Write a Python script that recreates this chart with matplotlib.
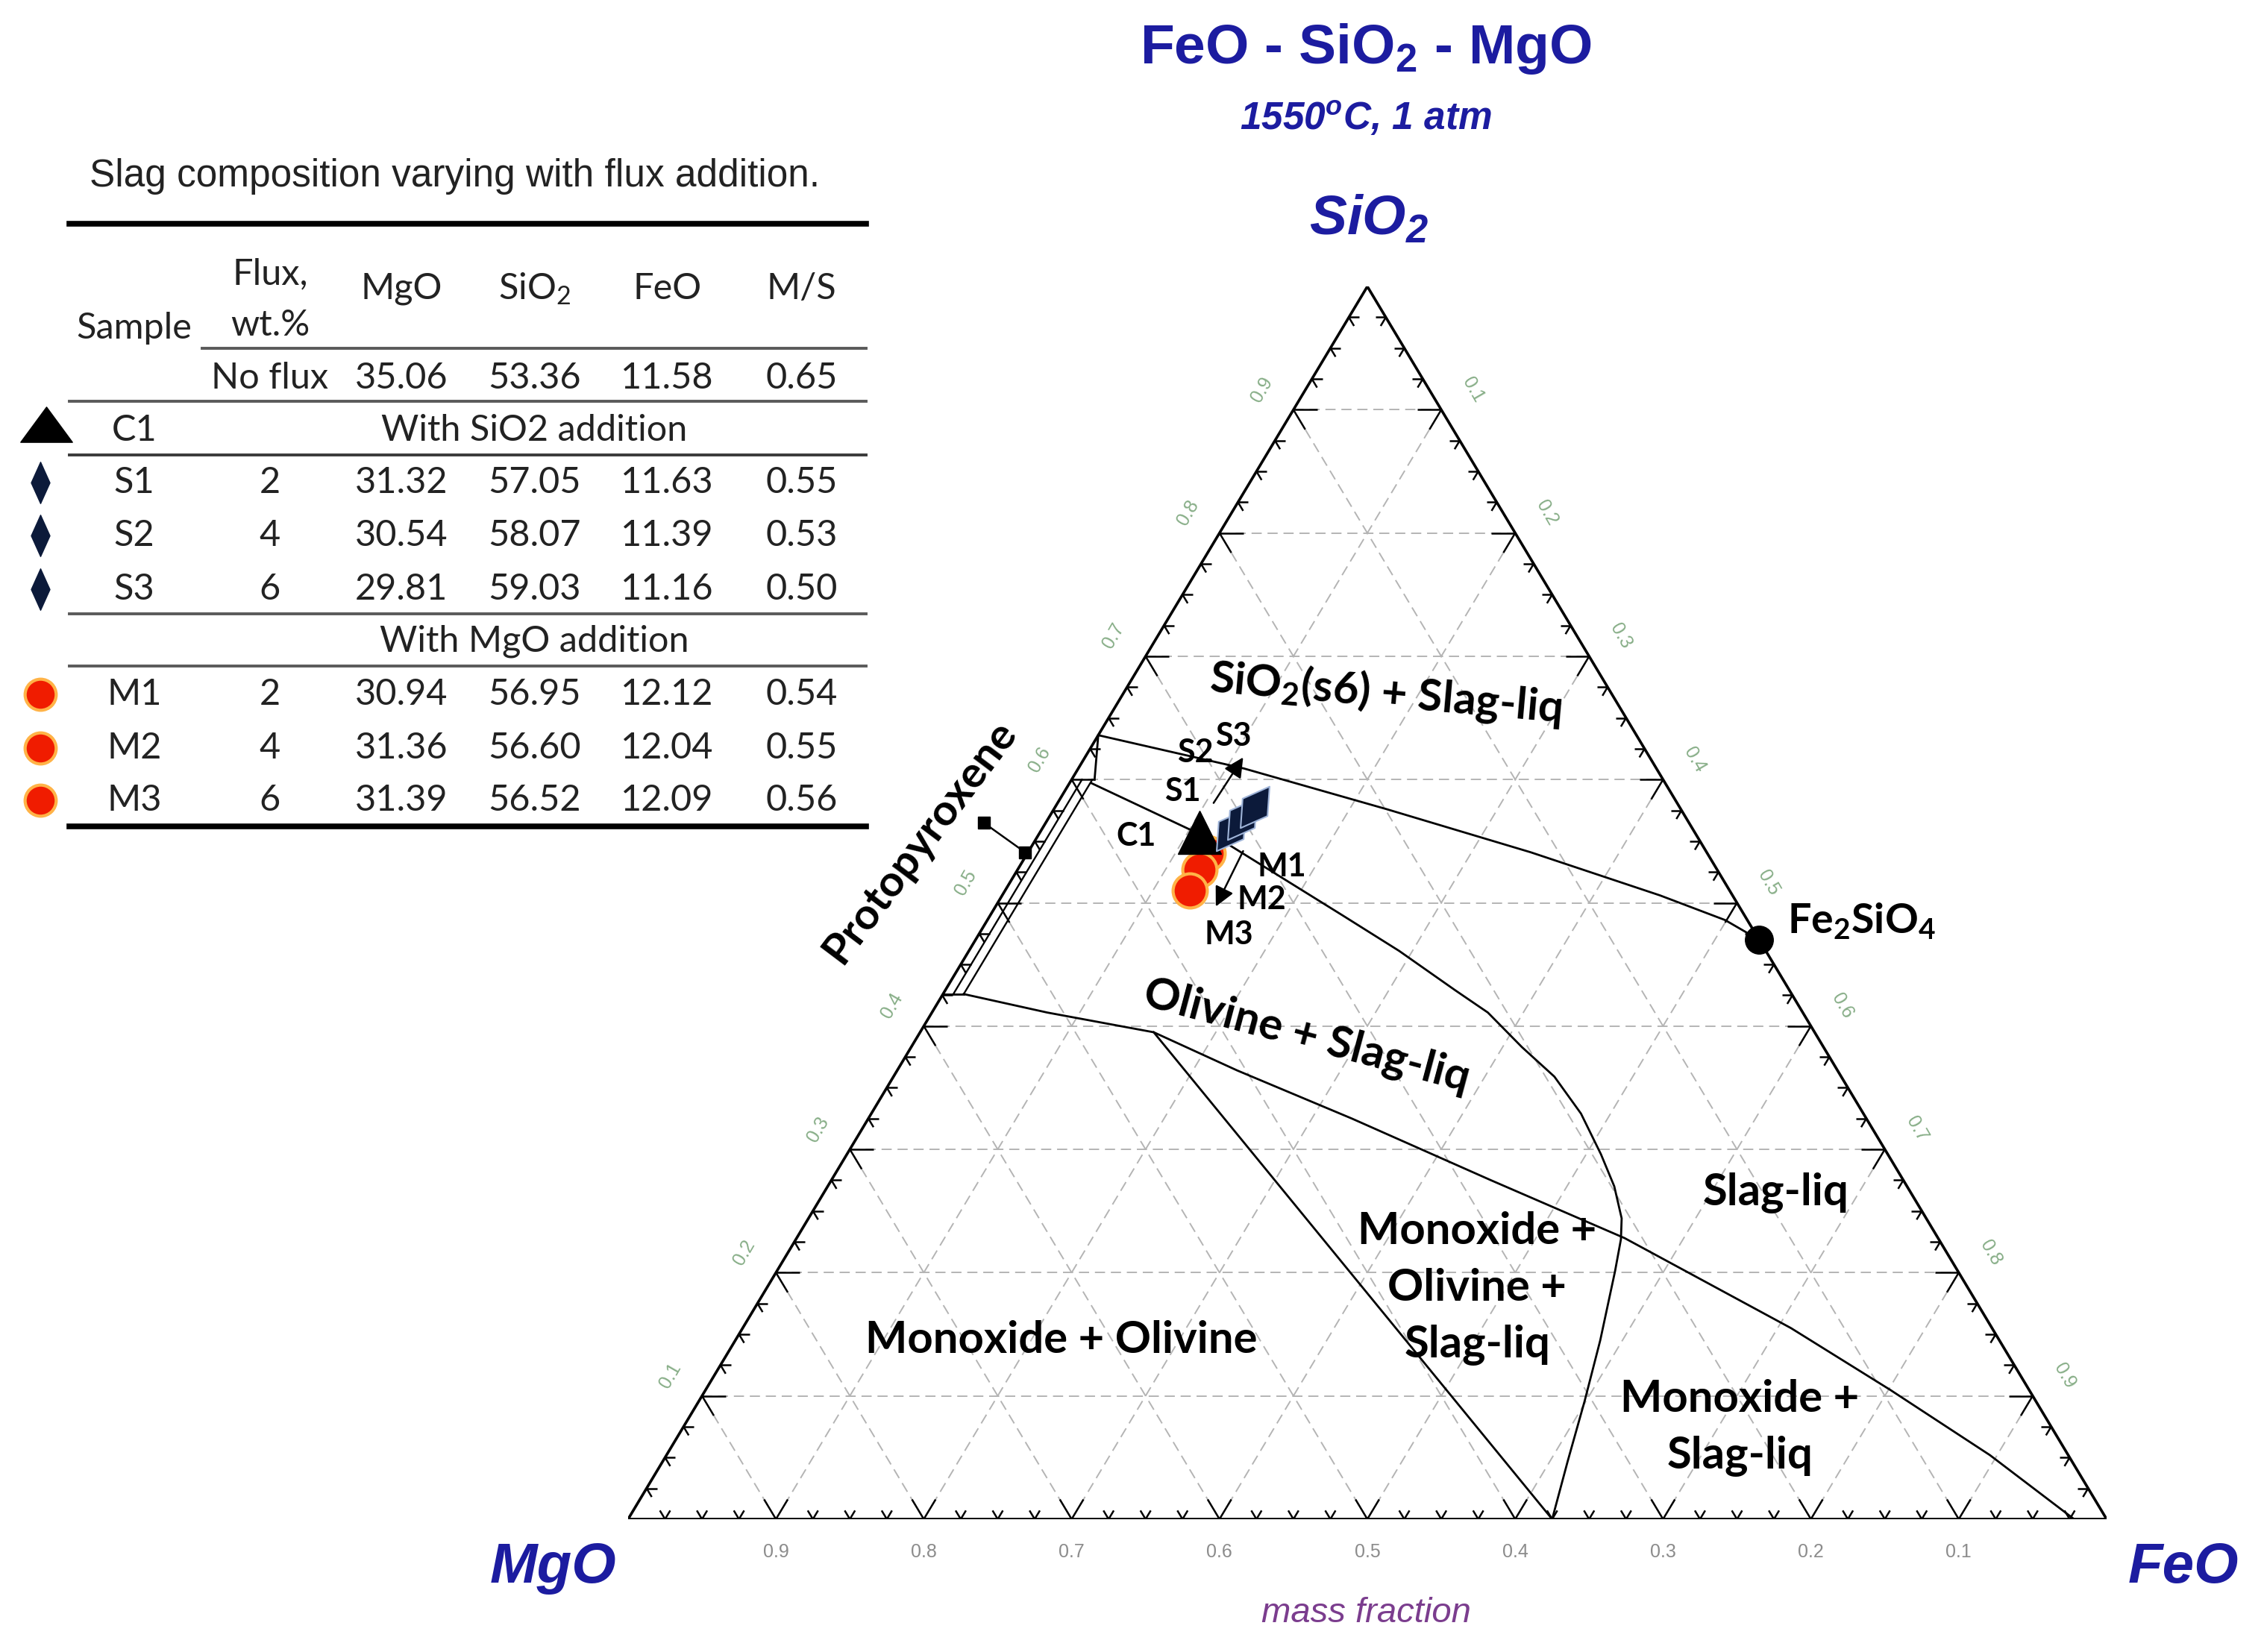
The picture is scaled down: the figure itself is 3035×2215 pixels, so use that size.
import matplotlib
matplotlib.use("Agg")

import numpy as np
import matplotlib.pyplot as plt
from matplotlib import font_manager
from matplotlib.collections import LineCollection
from matplotlib.path import Path
from matplotlib.transforms import Affine2D

# ---- table values, wt.% ----
noflux_values = [35.06, 53.36, 11.58, 0.65]
s_names = ["S1", "S2", "S3"]
s_flux = [2, 4, 6]
s_mgo = [31.32, 30.54, 29.81]
s_sio2_tab = [57.05, 58.07, 59.03]
s_feo_tab = [11.63, 11.39, 11.16]
s_ms = [0.55, 0.53, 0.50]
m_names = ["M1", "M2", "M3"]
m_flux = [2, 4, 6]
m_mgo = [30.94, 31.36, 31.39]
m_sio2_tab = [56.95, 56.60, 56.52]
m_feo_tab = [12.12, 12.04, 12.09]
m_ms = [0.54, 0.55, 0.56]

# ---- marker positions as drawn on the diagram (mass fraction) ----
c1_sio2 = [0.557]
c1_feo = [0.108]
s_sio2 = [0.559, 0.568, 0.578]
s_feo = [0.128, 0.131, 0.135]
m_sio2 = [0.540, 0.527, 0.510]
m_feo = [0.122, 0.123, 0.125]
fe2sio4_sio2 = [0.47]
fe2sio4_feo = [0.53]

# ---- phase boundaries (mass fraction SiO2, FeO) ----
sat_sio2 = [0.636, 0.609, 0.576, 0.541, 0.506, 0.486, 0.470]
sat_feo = [0.000, 0.112, 0.225, 0.340, 0.445, 0.499, 0.530]

olv_sio2 = [0.597, 0.560, 0.547, 0.490, 0.461, 0.429, 0.411, 0.383, 0.359, 0.329,
            0.296, 0.270, 0.244, 0.227, 0.201, 0.145, 0.096, 0.047, 0.000]
olv_feo = [0.015, 0.099, 0.133, 0.238, 0.291, 0.345, 0.376, 0.413, 0.447, 0.480,
           0.510, 0.532, 0.550, 0.558, 0.567, 0.585, 0.599, 0.612, 0.625]

mono_sio2 = [0.426, 0.411, 0.395, 0.364, 0.325, 0.275, 0.228, 0.155, 0.105, 0.052, 0.000]
mono_feo = [0.014, 0.078, 0.158, 0.230, 0.327, 0.446, 0.560, 0.709, 0.801, 0.895, 0.978]

tie_sio2 = [0.395, 0.000]
tie_feo = [0.158, 0.625]

band_sio2 = [0.426, 0.600]
band_feo = [0.007, 0.014]
band_top_sio2 = [0.636, 0.600]
band_top_feo = [0.000, 0.0155]
band_bot_sio2 = [0.426, 0.426]
band_bot_feo = [0.000, 0.014]

proto_ptr_sio2 = [0.565, 0.541]
proto_ptr_feo = [-0.042, -0.002]

s_arrow_sio2 = [0.581, 0.618]
s_arrow_feo = [0.1055, 0.107]
m_arrow_sio2 = [0.542, 0.497]
m_arrow_feo = [0.145, 0.149]

tick_values = [0.1, 0.2, 0.3, 0.4, 0.5, 0.6, 0.7, 0.8, 0.9]

avail = {f.name for f in font_manager.fontManager.ttflist}
LABEL = "Lato" if "Lato" in avail else "DejaVu Sans"
ARIAL = "Liberation Sans" if "Liberation Sans" in avail else "DejaVu Sans"
NARROW = "Liberation Sans Narrow" if "Liberation Sans Narrow" in avail else ARIAL
plt.rcParams["font.family"] = [LABEL, "DejaVu Sans"]

BLUE = "#1c1ca0"
GRID = "#b4b4b4"
NAVY = "#0c1a3a"
RED = "#f01c00"


def tern(sio2, feo):
    sio2 = np.asarray(sio2, dtype = float)
    feo = np.asarray(feo, dtype = float)
    return feo + sio2/2.0, sio2


def sub(s):
    return "$\\mathregular{_" + s + "}$"


def custom_marker(verts, angle = 0):
    path = Path(verts + [verts[0]], closed = True)
    return path.transformed(Affine2D().rotate_deg(angle))


diamond_tab = custom_marker([(0, 1), (0.45, 0), (0, -1), (-0.45, 0)])
diamond_plot = custom_marker([(0, 1), (0.6, 0), (0, -1), (-0.6, 0)], angle = -35)
tri_tab = custom_marker([(-1, -0.68), (1, -0.68), (0, 0.68)])

fig = plt.figure(figsize = (30.35, 22.15), dpi = 100)

# ternary axes: x = FeO + SiO2/2, y = SiO2
ax = fig.add_axes([435/1568, 1 - 1052/1144, 1024/1568, 853.6/1144])
ax.set_xlim(0, 1)
ax.set_ylim(0, 1)
ax.axis("off")

for v in tick_values:
    for s_pts, f_pts in (([v, v], [0, 1 - v]), ([0, 1 - v], [v, v]), ([0, 1 - v], [1 - v, 0])):
        x, y = tern(s_pts, f_pts)
        ax.plot(x, y, color = GRID, lw = 1.4, ls = (0, (7, 4)), zorder = 1)

x, y = tern([0, 0, 1, 0], [0, 1, 0, 0])
ax.plot(x, y, color = "k", lw = 2.6, solid_joinstyle = "miter", zorder = 3)

segs = []
for i in range(1, 40):
    v = i*0.025
    L = 0.016 if i % 4 == 0 else 0.007
    # base (SiO2 = 0, FeO = v)
    for s_end, f_end in ((L, v), (L, v - L)):
        segs.append(np.column_stack(tern([0, s_end], [v, f_end])))
    # left edge (FeO = 0, SiO2 = v)
    for s_end, f_end in ((v, L), (v - L, L)):
        segs.append(np.column_stack(tern([v, s_end], [0, f_end])))
    # right edge (MgO = 0, SiO2 = v)
    for s_end, f_end in ((v, 1 - v - L), (v - L, 1 - v)):
        segs.append(np.column_stack(tern([v, s_end], [1 - v, f_end])))
ax.add_collection(LineCollection(segs, colors = "k", linewidths = 1.8, zorder = 3))

for v in tick_values:
    x, y = tern(v, 0)
    ax.text(x - 0.0215, y + 0.0164, f"{v:.1f}", rotation = 60, fontsize = 18,
            family = ARIAL, color = "#86ad86", ha = "center", va = "center")
    x, y = tern(1 - v, v)
    ax.text(x + 0.0215, y + 0.0164, f"{v:.1f}", rotation = -60, fontsize = 18,
            family = ARIAL, color = "#86ad86", ha = "center", va = "center")
    x, y = tern(0, 1 - v)
    ax.text(x, y - 0.027, f"{v:.1f}", fontsize = 18, family = ARIAL,
            color = "#8c8c8c", ha = "center", va = "center")

for s_pts, f_pts in ((sat_sio2, sat_feo), (olv_sio2, olv_feo), (mono_sio2, mono_feo),
                     (tie_sio2, tie_feo), (band_top_sio2, band_top_feo),
                     (band_bot_sio2, band_bot_feo)):
    x, y = tern(s_pts, f_pts)
    ax.plot(x, y, color = "k", lw = 2.0, zorder = 4)

for f in band_feo:
    x, y = tern(band_sio2, [f, f])
    ax.plot(x, y, color = "k", lw = 1.7, zorder = 4)

x, y = tern(proto_ptr_sio2, proto_ptr_feo)
ax.plot(x, y, color = "k", lw = 1.8, marker = "s", ms = 11, zorder = 5, clip_on = False)

x, y = tern(fe2sio4_sio2, fe2sio4_feo)
ax.plot(x, y, "o", color = "k", ms = 27, zorder = 6, clip_on = False)

for s_pts, f_pts in ((s_arrow_sio2, s_arrow_feo), (m_arrow_sio2, m_arrow_feo)):
    x, y = tern(s_pts, f_pts)
    ax.annotate("", xy = (x[1], y[1]), xytext = (x[0], y[0]),
                arrowprops = dict(arrowstyle = "-|>", color = "k", lw = 1.8,
                                  mutation_scale = 40, shrinkA = 0, shrinkB = 0),
                zorder = 6)

x, y = tern(m_sio2, m_feo)
ax.plot(x, y, "o", ls = "none", ms = 33, mfc = RED, mec = "#ffb347", mew = 3, zorder = 7)
x, y = tern(c1_sio2, c1_feo)
ax.plot(x, y, "^", ls = "none", ms = 42, color = "k", zorder = 8)
x, y = tern(s_sio2, s_feo)
ax.plot(x, y, marker = diamond_plot, ls = "none", ms = 40, mfc = NAVY, mec = "#9fb4d8",
        mew = 1.5, zorder = 9)

# ---- page overlay (coordinates of a 1568 x 1144 canvas) ----
page = fig.add_axes([0, 0, 1, 1], zorder = 5)
page.set_xlim(0, 1568)
page.set_ylim(1144, 0)
page.axis("off")

page.text(946, 34, "FeO - SiO" + sub("2") + " - MgO", family = ARIAL, weight = "bold",
          fontsize = 54, color = BLUE, ha = "center", va = "center")
page.text(946, 82, "1550$\\mathregular{^o}$C, 1 atm", family = ARIAL, weight = "bold",
          style = "italic", fontsize = 37, color = BLUE, ha = "center", va = "center")
page.text(948, 152, "SiO" + sub("2"), family = ARIAL, weight = "bold", style = "italic",
          fontsize = 54, color = BLUE, ha = "center", va = "center")
page.text(383, 1086, "MgO", family = ARIAL, weight = "bold", style = "italic",
          fontsize = 55, color = BLUE, ha = "center", va = "center")
page.text(1512, 1086, "FeO", family = ARIAL, weight = "bold", style = "italic",
          fontsize = 55, color = BLUE, ha = "center", va = "center")
page.text(946, 1117, "mass fraction", family = ARIAL, style = "italic",
          fontsize = 34, color = "#7b3d8e", ha = "center", va = "center")

region_kw = dict(weight = "bold", fontsize = 43, color = "k", ha = "center", va = "center")
page.text(960, 480, "SiO" + sub("2") + "(s6) + Slag-liq", rotation = -5, **region_kw)
page.text(905, 718, "Olivine + Slag-liq", rotation = -15, **region_kw)
page.text(1230, 826, "Slag-liq", **region_kw)
page.text(1023, 892, "Monoxide +\nOlivine +\nSlag-liq", linespacing = 1.5, **region_kw)
page.text(735, 928, "Monoxide + Olivine", **region_kw)
page.text(1205, 989, "Monoxide +\nSlag-liq", linespacing = 1.5, **region_kw)
page.text(1238, 638, "Fe" + sub("2") + "SiO" + sub("4"), weight = "bold", fontsize = 40,
          ha = "left", va = "center")
page.text(637, 583, "Protopyroxene", rotation = 53, weight = "bold", fontsize = 42,
          ha = "center", va = "center")

pt_kw = dict(weight = "bold", fontsize = 31, ha = "center", va = "center")
page.text(819, 548, "S1", **pt_kw)
page.text(828, 521, "S2", **pt_kw)
page.text(854, 510, "S3", **pt_kw)
page.text(787, 579, "C1", **pt_kw)
page.text(888, 600, "M1", **pt_kw)
page.text(874, 623, "M2", **pt_kw)
page.text(851, 647, "M3", **pt_kw)

# ---- table ----
col_x = [93, 187, 278, 370, 462, 555]
tab_kw = dict(fontsize = 35, color = "#222222", ha = "center", va = "center")

page.text(315, 122, "Slag composition varying with flux addition.", family = NARROW,
          fontsize = 37, color = "#222222", ha = "center", va = "center")
page.plot([48, 600], [155, 155], color = "k", lw = 5.5)
page.text(col_x[0], 227, "Sample", **tab_kw)
page.text(col_x[1], 190, "Flux,", **tab_kw)
page.text(col_x[1], 225, "wt.%", **tab_kw)
for x, h in zip(col_x[2:], ["MgO", "SiO" + sub("2"), "FeO", "M/S"]):
    page.text(x, 200, h, **tab_kw)
page.plot([140, 600], [241, 241], color = "#5a5a5a", lw = 2.8)

page.text(col_x[1], 262, "No flux", **tab_kw)
for x, v in zip(col_x[2:], noflux_values):
    page.text(x, 262, f"{v:.2f}", **tab_kw)
page.plot([48, 600], [278, 278], color = "#5a5a5a", lw = 2.8)

page.plot([32], [294], marker = tri_tab, ms = 50, color = "k", ls = "none")
page.text(col_x[0], 298, "C1", **tab_kw)
page.text(col_x[3], 298, "With SiO2 addition", **tab_kw)
page.plot([48, 600], [315, 315], color = "#3a3a3a", lw = 2.8)

s_rows_y = [334, 371, 408]
for y, name, flux, mgo, sio2, feo, ms in zip(s_rows_y, s_names, s_flux, s_mgo,
                                             s_sio2_tab, s_feo_tab, s_ms):
    page.plot([28], [y], marker = diamond_tab, ms = 40, color = NAVY, ls = "none")
    page.text(col_x[0], y, name, **tab_kw)
    page.text(col_x[1], y, str(flux), **tab_kw)
    for x, v in zip(col_x[2:], [mgo, sio2, feo, ms]):
        page.text(x, y, f"{v:.2f}", **tab_kw)
page.plot([48, 600], [425, 425], color = "#5a5a5a", lw = 2.8)

page.text(col_x[3], 444, "With MgO addition", **tab_kw)
page.plot([48, 600], [461, 461], color = "#5a5a5a", lw = 2.8)

m_rows_y = [481, 518, 554]
for y, name, flux, mgo, sio2, feo, ms in zip(m_rows_y, m_names, m_flux, m_mgo,
                                             m_sio2_tab, m_feo_tab, m_ms):
    page.plot([28], [y], "o", ms = 30, mfc = RED, mec = "#ffb347", mew = 3, ls = "none")
    page.text(col_x[0], y, name, **tab_kw)
    page.text(col_x[1], y, str(flux), **tab_kw)
    for x, v in zip(col_x[2:], [mgo, sio2, feo, ms]):
        page.text(x, y, f"{v:.2f}", **tab_kw)
page.plot([48, 600], [572, 572], color = "k", lw = 5.5)

fig.savefig("out.png", dpi = 100)
